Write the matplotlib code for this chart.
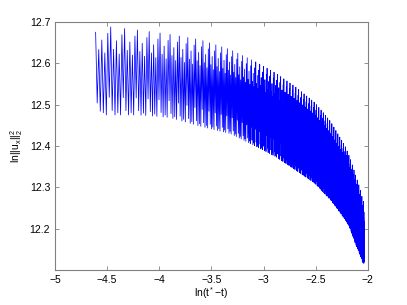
import numpy as np
import matplotlib.pyplot as plt

plt.rcParams['font.family'] = ['Liberation Sans', 'DejaVu Sans']
plt.rcParams['mathtext.default'] = 'regular'

# envelope of the oscillation
env_x = [-4.61, -4.54, -4.19, -3.90, -3.61, -3.32, -3.08, -2.89, -2.70, -2.51,
         -2.36, -2.22, -2.17, -2.125, -2.08, -2.05, -2.035]
env_hi = [12.675, 12.69, 12.68, 12.67, 12.657, 12.633, 12.604, 12.577, 12.544, 12.505,
          12.46, 12.40, 12.37, 12.335, 12.30, 12.27, 12.26]
env_lo = [12.50, 12.475, 12.475, 12.469, 12.448, 12.43, 12.40, 12.375, 12.343, 12.31,
          12.27, 12.223, 12.20, 12.167, 12.14, 12.118, 12.115]

# crest spacing seen along the curve
gap_x = [-4.61, -4.0, -3.5, -3.0, -2.5, -2.035]
gap = [0.030, 0.020, 0.012, 0.007, 0.0045, 0.0028]

# relative depth of successive swings (beating pattern at the left end)
swing = [1.0, 0.9, 0.5, 1.0, 0.7, 0.95, 0.4, 1.0, 0.85, 0.6]

xs, ys = [], []
x = env_x[0]
k = 0
while x <= env_x[-1]:
    hi = np.interp(x, env_x, env_hi)
    lo = np.interp(x, env_x, env_lo)
    mid = 0.5 * (hi + lo)
    half = 0.5 * (hi - lo) * swing[k % len(swing)]
    xs.append(x)
    ys.append(mid + half if k % 2 == 0 else mid - half)
    x += 0.5 * np.interp(x, gap_x, gap)
    k += 1

fig = plt.figure(figsize=(4.07, 3.05), dpi=100)
ax = fig.add_axes([0.135, 0.115, 0.769, 0.813])
ax.plot(xs, ys, color='#0000ff', lw=0.55)

ax.set_xlim(-5, -2)
ax.set_ylim(12.1, 12.7)
ax.set_xticks([-5, -4.5, -4, -3.5, -3, -2.5, -2])
ax.set_xticklabels(['\u22125', '\u22124.5', '\u22124', '\u22123.5', '\u22123', '\u22122.5', '\u22122'])
ax.set_yticks([12.2, 12.3, 12.4, 12.5, 12.6, 12.7])
ax.set_yticklabels(['12.2', '12.3', '12.4', '12.5', '12.6', '12.7'])
ax.tick_params(direction='in', length=3, width=0.6, color='#808080',
               labelsize=7.5, top=True, right=True, labeltop=False, labelright=False)
for s in ax.spines.values():
    s.set_color('#808080')
    s.set_linewidth(0.8)

ax.set_xlabel('ln(t$^*$\u2212t)', fontsize=7.5, labelpad=0)
ax.set_ylabel('ln||u$_x$||$_2^2$', fontsize=7.5, labelpad=3)

fig.savefig('out.png', dpi=100)
